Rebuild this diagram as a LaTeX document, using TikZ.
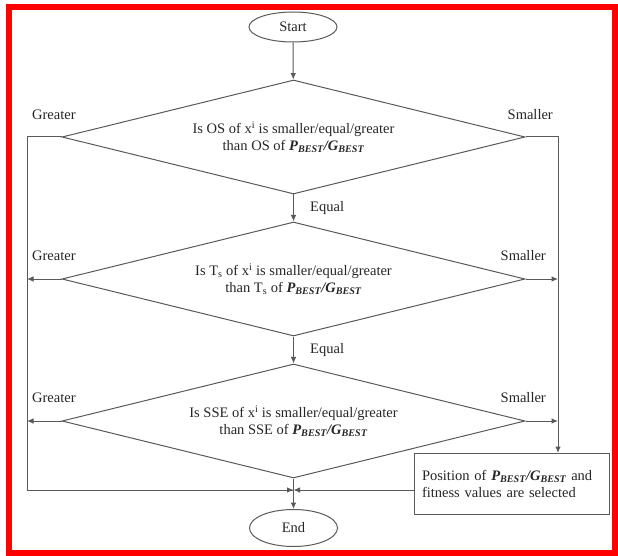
\documentclass[tikz,border=0pt]{standalone}
\usepackage{fontspec}
\setmainfont{Liberation Serif}
\usetikzlibrary{shapes.geometric,arrows.meta}

\newcommand{\pgbest}{{\bfseries\itshape P\textsubscript{BEST}/G\textsubscript{BEST}}}

\begin{document}
\begin{tikzpicture}[x=1pt, y=-1pt,
  every node/.style={font=\fontsize{14.5}{17}\selectfont, text=black!85},
  flowline/.style={draw=black!65, line width=1pt},
  arr/.style={flowline, -{Latex[length=6.5pt, width=5.5pt]}},
  cond/.style={flowline, diamond, aspect=4.06, minimum width=463pt, minimum height=114pt, inner sep=0pt, align=center},
  term/.style={flowline, ellipse, minimum width=88pt, inner sep=0pt},
  tag/.style={inner sep=0pt}]
\useasboundingbox (0, 0) rectangle (618, 556);
\draw [red, line width=6pt] (9, 7) rectangle (615, 553);

\node [term, minimum height=30pt] (start) at (293, 27) {Start};
\node [cond] (d1) at (293.5, 137) {Is OS of x\textsuperscript{i} is smaller/equal/greater\\than OS of \pgbest};
\node [cond] (d2) at (293.5, 279) {Is T\textsubscript{s} of x\textsuperscript{i} is smaller/equal/greater\\than T\textsubscript{s} of \pgbest};
\node [cond] (d3) at (293.5, 421) {Is SSE of x\textsuperscript{i} is smaller/equal/greater\\than SSE of \pgbest};
\node [flowline, rectangle, minimum height=61pt, text width=179pt, inner xsep=8pt, inner ysep=0pt, align=left] (sel) at (511.5, 483.5) {Position of \pgbest{} and\\fitness values are selected};
\node [term, minimum height=37pt] (stop) at (293.5, 528) {End};

\coordinate (jn) at (293.5, 490);
\coordinate (lft) at (27, 490);
\coordinate (rgt) at (558, 453);

\node [tag, anchor=west] at (32, 115) {Greater};
\node [tag, anchor=east] at (553, 115) {Smaller};
\node [tag, anchor=west] at (32, 256) {Greater};
\node [tag, anchor=east] at (546, 256) {Smaller};
\node [tag, anchor=west] at (32, 398) {Greater};
\node [tag, anchor=east] at (546, 398) {Smaller};
\node [tag, anchor=west] at (310, 208) {Equal};
\node [tag, anchor=west] at (310, 350) {Equal};

\draw [arr] (start) -- (d1);
\draw [arr] (d1) -- (d2);
\draw [arr] (d2) -- (d3);
\draw [arr] (d3) -- (stop);

\draw [flowline] (d1.west) -| (lft) -- (jn);
\draw [arr] (lft) -- (jn);
\draw [arr] (d2.west) -- (d2.west -| lft);
\draw [arr] (d3.west) -- (d3.west -| lft);

\draw [arr] (d1.east) -| (rgt);
\draw [arr] (d2.east) -- (d2.east -| rgt);
\draw [arr] (d3.east) -- (d3.east -| rgt);
\draw [arr] (sel.west |- jn) -- (jn);
\end{tikzpicture}
\end{document}
